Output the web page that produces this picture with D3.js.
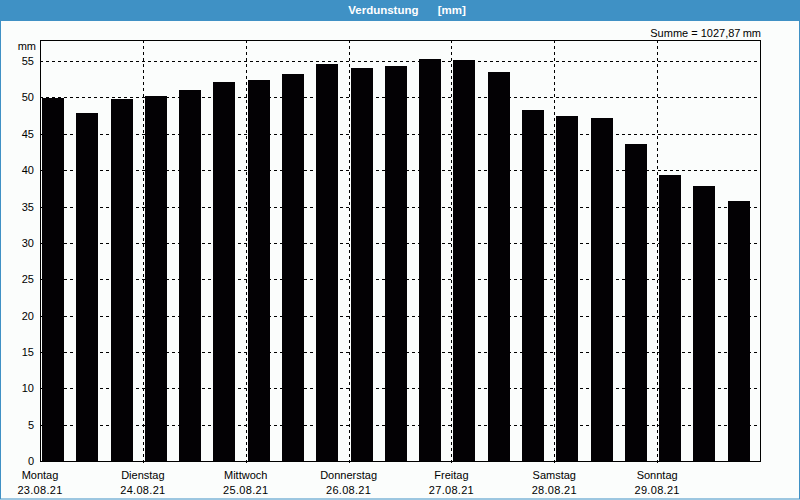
<!DOCTYPE html>
<html>
<head>
<meta charset="utf-8">
<script src="https://cdn.jsdelivr.net/npm/d3@7"></script>
<style>
  html, body { margin: 0; padding: 0; background: #fbfdfc; }
  svg { display: block; font-family: "Liberation Sans", Arial, sans-serif; }
</style>
</head>
<body>
<div id="chart"></div>
<script>
// day labels (two lines each)
const days = ['Montag', 'Dienstag', 'Mittwoch', 'Donnerstag', 'Freitag', 'Samstag', 'Sonntag'];
const dates = ['23.08.21', '24.08.21', '25.08.21', '26.08.21', '27.08.21', '28.08.21', '29.08.21'];
// three values per day, mm
const values = [
	49.9, 47.9, 49.8,
	50.2, 51.0, 52.1,
	52.4, 53.2, 54.6,
	54.1, 54.3, 55.3,
	55.2, 53.5, 48.3,
	47.5, 47.2, 43.6,
	39.3, 37.8, 35.8
];
const yTicks = [0, 5, 10, 15, 20, 25, 30, 35, 40, 45, 50, 55];
const title = 'Verdunstung\u00a0\u00a0\u00a0\u00a0\u00a0\u00a0[mm]';
const summe = 'Summe = 1027,87\u2009mm';

const W = 800, H = 500;
const margin = {top: 40, right: 40, bottom: 39, left: 40};
const innerW = W - margin.left - margin.right,
	innerH = H - margin.top - margin.bottom;
const blue = '#3f91c5';

const svg = d3.select('#chart').append('svg')
	.attr('width', W)
	.attr('height', H);

// window frame + title bar
svg.append('rect')
	.attr('x', 0.5).attr('y', 0.5)
	.attr('width', W - 1).attr('height', H - 1.5)
	.attr('fill', '#fbfdfc')
	.attr('stroke', blue);
svg.append('rect')
	.attr('x', 0).attr('y', 0)
	.attr('width', W).attr('height', 21)
	.attr('fill', blue);
svg.append('text')
	.attr('x', W / 2 + 7).attr('y', 14)
	.attr('text-anchor', 'middle')
	.attr('fill', '#fff')
	.style('font-size', '11.5px')
	.style('font-weight', 'bold')
	.text(title);

const g = svg.append('g')
	.attr('transform', `translate(${margin.left}, ${margin.top})`);

const x = d3.scaleBand()
	.domain(d3.range(values.length))
	.range([0, innerW])
	.padding(0);
const xDay = d3.scaleLinear()
	.domain([0, days.length])
	.range([0, innerW]);
const y = d3.scaleLinear()
	.domain([0, 57.9])
	.range([innerH, 0]);

// horizontal grid
g.selectAll('line.hgrid')
	.data(yTicks.filter(d => d > 0))
	.enter().append('line')
	.attr('class', 'hgrid')
	.attr('x1', 0).attr('x2', innerW)
	.attr('y1', d => Math.round(y(d)) + 0.5)
	.attr('y2', d => Math.round(y(d)) + 0.5)
	.attr('stroke', '#000')
	.attr('stroke-dasharray', '3,3');

// vertical day grid
g.selectAll('line.vgrid')
	.data(d3.range(1, days.length))
	.enter().append('line')
	.attr('class', 'vgrid')
	.attr('x1', d => Math.round(xDay(d)) + 0.5)
	.attr('x2', d => Math.round(xDay(d)) + 0.5)
	.attr('y1', 0).attr('y2', innerH + 3)
	.attr('stroke', '#000')
	.attr('stroke-dasharray', '3,3');

// bars
const bw = x.bandwidth();
g.selectAll('rect.bar')
	.data(values)
	.enter().append('rect')
	.attr('class', 'bar')
	.attr('x', (d, i) => Math.round(x(i) + bw * 0.06))
	.attr('width', Math.round(bw * 0.64))
	.attr('y', d => Math.round(y(d)))
	.attr('height', d => innerH - Math.round(y(d)))
	.attr('fill', '#030104');

// plot frame
g.append('rect')
	.attr('x', 0.5).attr('y', 0.5)
	.attr('width', innerW).attr('height', innerH)
	.attr('fill', 'none')
	.attr('stroke', '#000');

// y axis labels
const yAxis = d3.axisLeft(y).tickValues(yTicks).tickSize(0).tickPadding(6);
g.append('g')
	.call(yAxis)
	.call(s => s.select('.domain').remove())
	.selectAll('text')
	.attr('fill', '#000')
	.style('font-size', '11px')
	.style('font-family', '"Liberation Sans", Arial, sans-serif');

g.append('text')
	.attr('x', -4).attr('y', 10)
	.attr('text-anchor', 'end')
	.style('font-size', '11px')
	.text('mm');

svg.append('text')
	.attr('x', W - margin.right + 1).attr('y', 37)
	.attr('text-anchor', 'end')
	.style('font-size', '11px')
	.text(summe);

// day labels at day starts
const lbl = g.selectAll('g.day')
	.data(days)
	.enter().append('g')
	.attr('class', 'day')
	.attr('transform', (d, i) => `translate(${xDay(i)}, ${innerH})`);
lbl.append('text')
	.attr('y', 18)
	.attr('text-anchor', 'middle')
	.style('font-size', '11px')
	.text(d => d);
lbl.append('text')
	.attr('y', 33)
	.attr('text-anchor', 'middle')
	.style('font-size', '11px')
	.style('letter-spacing', '0.3px')
	.text((d, i) => dates[i]);
</script>
</body>
</html>
